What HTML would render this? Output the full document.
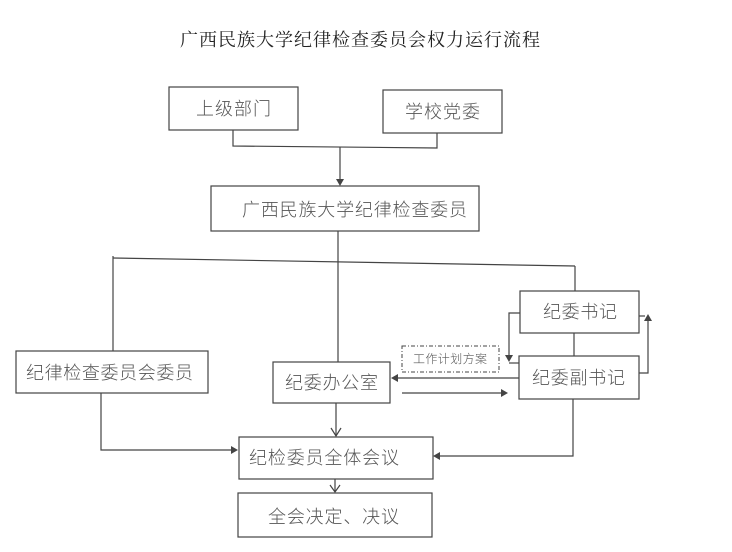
<!DOCTYPE html>
<html><head><meta charset="utf-8">
<style>
html,body{margin:0;padding:0;background:#fff;}
svg{display:block;}
text{font-family:"Liberation Sans","Noto Sans CJK SC",sans-serif;font-weight:300;fill:#555;dominant-baseline:central;}
.t{font-family:"Liberation Serif","Noto Serif CJK SC",serif;font-weight:400;fill:#222;}
</style></head>
<body>
<svg width="732" height="552" viewBox="0 0 732 552" xmlns="http://www.w3.org/2000/svg">
<rect width="732" height="552" fill="#fff"/>
<g fill="none" stroke="#444" stroke-width="1.2">
  <rect x="169" y="87" width="129" height="43"/>
  <rect x="383" y="90" width="119" height="43"/>
  <rect x="211" y="186" width="268" height="45"/>
  <rect x="16" y="351" width="192" height="42"/>
  <rect x="273" y="362" width="117" height="41"/>
  <rect x="520" y="291" width="119" height="42"/>
  <rect x="519" y="356" width="120" height="43"/>
  <rect x="239" y="437" width="194" height="42"/>
  <rect x="238" y="493" width="194" height="44"/>
  <rect x="402" y="346" width="97" height="26" stroke-dasharray="4,2,1,2" stroke-width="1"/>
  <polyline points="233,130 233,146 437,148 437,133"/>
  <line x1="340" y1="147" x2="340" y2="180"/>
  <line x1="338" y1="231" x2="338" y2="362"/>
  <line x1="113" y1="258" x2="575" y2="266"/>
  <line x1="113" y1="256" x2="113" y2="351"/>
  <line x1="575" y1="266" x2="575" y2="291"/>
  <line x1="574" y1="333" x2="574" y2="356"/>
  <polyline points="520,313 509,313 509,356"/>
  <line x1="509" y1="363" x2="519" y2="363"/>
  <polyline points="639,373 648,373 648,320"/>
  <line x1="639" y1="316" x2="645" y2="316"/>
  <line x1="519" y1="378" x2="397" y2="378"/>
  <line x1="402" y1="393" x2="502" y2="393"/>
  <polyline points="101,393 101,450 232,450"/>
  <line x1="336" y1="403" x2="336" y2="436"/>
  <polyline points="573,399 573,456 440,456"/>
  <line x1="335" y1="479" x2="335" y2="492"/>
  <polyline points="331,428 336,436 341,428"/>
  <polyline points="330,485 335,492 340,485"/>
</g>
<g fill="#444" stroke="none">
  <polygon points="336,179 344,179 340,186"/>
  <polygon points="505,355 513,355 509,362"/>
  <polygon points="644,321 652,321 648,314"/>
  <polygon points="398,374 398,382 391,378"/>
  <polygon points="501,389 501,397 508,393"/>
  <polygon points="231,446 231,454 238,450"/>
  <polygon points="440,452 440,460 433,456"/>
</g>
<text class="t" x="180" y="40" font-size="18" textLength="360" lengthAdjust="spacing">广西民族大学纪律检查委员会权力运行流程</text>
<text x="196" y="109" font-size="18" textLength="75" lengthAdjust="spacing">上级部门</text>
<text x="405" y="112" font-size="18" textLength="75" lengthAdjust="spacing">学校党委</text>
<text x="242" y="210" font-size="18" textLength="225" lengthAdjust="spacing">广西民族大学纪律检查委员</text>
<text x="26" y="373" font-size="18" textLength="167" lengthAdjust="spacing">纪律检查委员会委员</text>
<text x="285" y="383" font-size="18" textLength="93" lengthAdjust="spacing">纪委办公室</text>
<text x="543" y="312" font-size="18" textLength="74" lengthAdjust="spacing">纪委书记</text>
<text x="532" y="378" font-size="18" textLength="93" lengthAdjust="spacing">纪委副书记</text>
<text x="413" y="359" font-size="12" textLength="74" lengthAdjust="spacing">工作计划方案</text>
<text x="249" y="458" font-size="18" textLength="150" lengthAdjust="spacing">纪检委员全体会议</text>
<text x="268" y="517" font-size="18" textLength="131" lengthAdjust="spacing">全会决定、决议</text>
</svg>
</body></html>
